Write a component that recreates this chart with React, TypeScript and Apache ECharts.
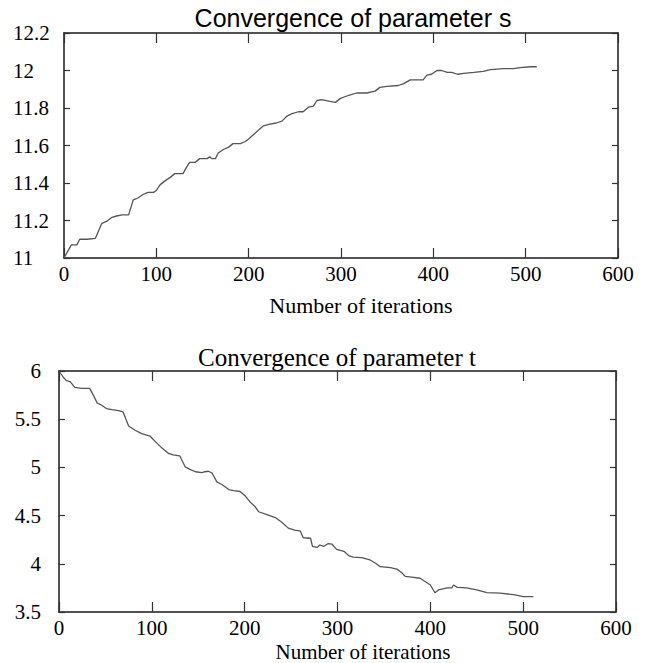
import React, { useEffect, useRef } from "react";
import * as echarts from "echarts";

const sIter = [0, 8, 14, 17, 25, 34, 41, 46, 52, 57, 63, 70, 75, 80, 86, 91, 97, 100, 104, 109, 115, 120, 124, 129, 131, 136, 142, 147, 155, 158, 160, 164, 167, 173, 178, 183, 191, 196, 200, 209, 216, 223, 230, 236, 241, 247, 254, 259, 265, 270, 274, 279, 288, 294, 299, 304, 310, 317, 328, 337, 342, 350, 362, 368, 375, 389, 393, 398, 404, 409, 415, 420, 426, 433, 444, 454, 462, 476, 487, 494, 505, 512];
const sVal = [11.0, 11.07, 11.07, 11.10, 11.10, 11.105, 11.185, 11.195, 11.217, 11.224, 11.23, 11.23, 11.31, 11.32, 11.34, 11.35, 11.35, 11.36, 11.39, 11.41, 11.43, 11.45, 11.45, 11.45, 11.47, 11.51, 11.51, 11.53, 11.53, 11.54, 11.53, 11.53, 11.56, 11.58, 11.59, 11.61, 11.61, 11.62, 11.635, 11.675, 11.705, 11.714, 11.72, 11.73, 11.755, 11.77, 11.78, 11.78, 11.805, 11.81, 11.84, 11.845, 11.835, 11.83, 11.85, 11.86, 11.87, 11.88, 11.88, 11.89, 11.91, 11.915, 11.92, 11.93, 11.95, 11.95, 11.975, 11.98, 12.0, 12.0, 11.99, 11.99, 11.98, 11.985, 11.99, 11.995, 12.005, 12.01, 12.01, 12.015, 12.02, 12.02];

const tIter = [0, 5, 8, 12, 17, 24, 33, 37, 41, 46, 51, 57, 64, 69, 75, 82, 89, 98, 104, 111, 118, 123, 130, 136, 141, 147, 154, 157, 161, 165, 170, 175, 183, 188, 195, 201, 206, 211, 215, 224, 233, 240, 247, 254, 260, 263, 271, 273, 278, 281, 285, 290, 294, 299, 307, 312, 317, 326, 335, 341, 346, 357, 364, 369, 373, 382, 389, 400, 405, 409, 418, 423, 425, 429, 439, 450, 461, 475, 490, 500, 511];
const tVal = [6.0, 5.93, 5.90, 5.89, 5.83, 5.82, 5.82, 5.75, 5.67, 5.645, 5.61, 5.60, 5.59, 5.575, 5.43, 5.385, 5.35, 5.325, 5.265, 5.20, 5.145, 5.13, 5.12, 5.005, 4.98, 4.955, 4.945, 4.955, 4.96, 4.94, 4.85, 4.825, 4.77, 4.76, 4.75, 4.70, 4.64, 4.595, 4.54, 4.51, 4.48, 4.43, 4.37, 4.35, 4.34, 4.27, 4.265, 4.18, 4.17, 4.195, 4.18, 4.21, 4.205, 4.15, 4.13, 4.085, 4.07, 4.065, 4.04, 4.005, 3.97, 3.96, 3.945, 3.91, 3.87, 3.86, 3.85, 3.78, 3.70, 3.73, 3.75, 3.75, 3.78, 3.755, 3.75, 3.73, 3.70, 3.695, 3.68, 3.66, 3.66];

const titleS = "Convergence of parameter s";
const titleT = "Convergence of parameter t";
const xName = "Number of iterations";

const SERIF = "Liberation Serif";
const SANS = "Liberation Sans";
const FRAME = "#1a1a1a";

function fmt(v: number) {
  return String(+Number(v).toFixed(1));
}

export default function App() {
  const ref = useRef<HTMLDivElement>(null);
  useEffect(() => {
    document.body.style.margin = "0";
    const chart = echarts.init(ref.current!, null, { renderer: "svg" });

    const labelStyle = {
      color: "#000",
      fontFamily: SERIF,
      fontSize: 21,
      fontWeight: "normal" as const,
    };

    const xCommon = (gridIndex: number, position: "top" | "bottom", showLabel: boolean) => ({
      type: "value" as const,
      gridIndex,
      position,
      min: 0,
      max: 600,
      interval: 100,
      splitLine: { show: false },
      axisLine: { show: true, onZero: false, lineStyle: { color: FRAME, width: 1.5 } },
      axisTick: { show: true, inside: true, length: 10, lineStyle: { color: "#333", width: 1.2 } },
      axisLabel: {
        show: showLabel,
        margin: 5,
        ...labelStyle,
        formatter: (v: number) => String(v),
      },
    });

    const yCommon = (
      gridIndex: number,
      position: "left" | "right",
      min: number,
      max: number,
      interval: number,
      showLabel: boolean,
      align: "left" | "right",
      margin: number
    ) => ({
      type: "value" as const,
      gridIndex,
      position,
      min,
      max,
      interval,
      splitLine: { show: false },
      axisLine: { show: true, onZero: false, lineStyle: { color: FRAME, width: 1.5 } },
      axisTick: { show: true, inside: true, length: 6, lineStyle: { color: "#333", width: 1.2 } },
      axisLabel: {
        show: showLabel,
        align,
        margin,
        ...labelStyle,
        formatter: (v: number) => fmt(v),
      },
    });

    chart.setOption({
      animation: false,
      backgroundColor: "#ffffff",
      textStyle: { fontFamily: SERIF },
      grid: [
        { left: 64, right: 39, top: 33, height: 225 },
        { left: 59, right: 41, top: 371, height: 241 },
      ],
      xAxis: [
        xCommon(0, "bottom", true),
        xCommon(0, "top", false),
        xCommon(1, "bottom", true),
        xCommon(1, "top", false),
      ],
      yAxis: [
        yCommon(0, "left", 11, 12.2, 0.2, true, "left", 51),
        yCommon(0, "right", 11, 12.2, 0.2, false, "left", 8),
        yCommon(1, "left", 3.5, 6, 0.5, true, "right", 18),
        yCommon(1, "right", 3.5, 6, 0.5, false, "left", 8),
      ],
      series: [
        {
          type: "line",
          xAxisIndex: 0,
          yAxisIndex: 0,
          data: sIter.map((x, i) => [x, sVal[i]]),
          showSymbol: false,
          symbol: "none",
          lineStyle: { color: "#555555", width: 1.3 },
        },
        {
          type: "line",
          xAxisIndex: 2,
          yAxisIndex: 2,
          data: tIter.map((x, i) => [x, tVal[i]]),
          showSymbol: false,
          symbol: "none",
          lineStyle: { color: "#555555", width: 1.3 },
        },
      ],
      graphic: [
        {
          type: "text",
          x: 353,
          y: 18,
          style: {
            text: titleS,
            align: "center",
            verticalAlign: "middle",
            fontFamily: SANS,
            fontSize: 25,
            fill: "#000",
          },
        },
        {
          type: "text",
          x: 361,
          y: 305,
          style: {
            text: xName,
            align: "center",
            verticalAlign: "middle",
            fontFamily: SERIF,
            fontSize: 22,
            fill: "#000",
          },
        },
        {
          type: "text",
          x: 337,
          y: 357,
          style: {
            text: titleT,
            align: "center",
            verticalAlign: "middle",
            fontFamily: SERIF,
            fontSize: 25,
            fill: "#000",
          },
        },
        {
          type: "text",
          x: 363,
          y: 652,
          style: {
            text: xName,
            align: "center",
            verticalAlign: "middle",
            fontFamily: SERIF,
            fontSize: 21,
            fill: "#000",
          },
        },
      ],
    });
    return () => chart.dispose();
  }, []);
  return <div ref={ref} style={{ width: 657, height: 663 }} />;
}
